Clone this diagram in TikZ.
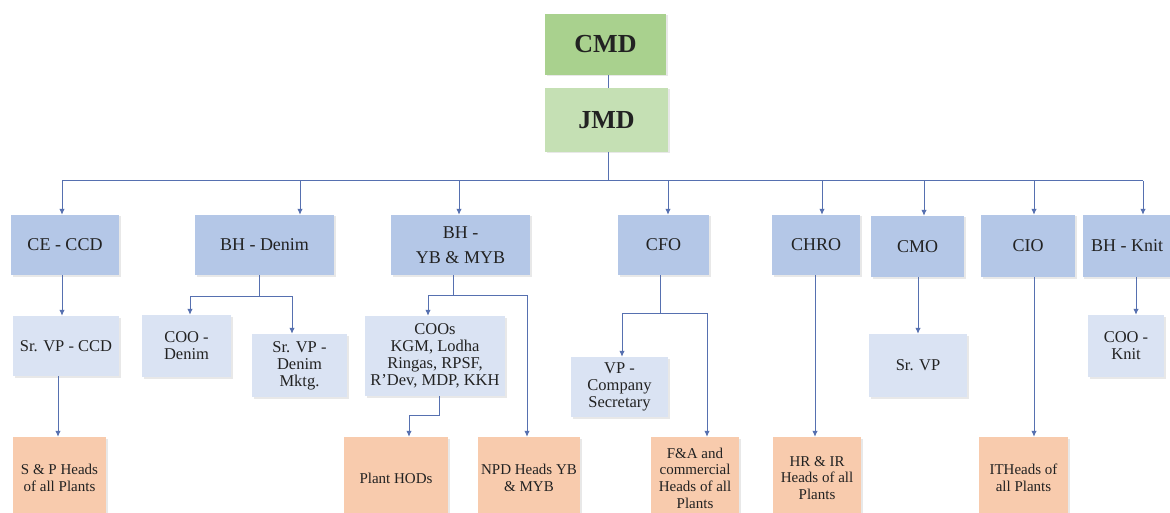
\documentclass[tikz,border=0pt]{standalone}
\usepackage{fontspec}
\setmainfont{Liberation Serif}
\usetikzlibrary{arrows.meta,shadows}
\definecolor{gA}{HTML}{A9D18E}
\definecolor{gB}{HTML}{C5E0B4}
\definecolor{bA}{HTML}{B4C7E7}
\definecolor{bB}{HTML}{DAE3F3}
\definecolor{oA}{HTML}{F8CBAD}
\definecolor{ln}{HTML}{5670B0}
\definecolor{tx}{HTML}{222222}
\tikzset{
  box/.style={inner sep=1pt, align=center, text=tx, drop shadow={shadow xshift=1.5pt, shadow yshift=-1.5pt, opacity=0.18}},
  topbox/.style={box, font=\fontsize{26}{30}\selectfont\bfseries},
  lvtwo/.style={box, fill=bA, font=\fontsize{18}{20}\selectfont},
  lvthree/.style={box, fill=bB, font=\fontsize{16.5}{17}\selectfont},
  lvfour/.style={box, fill=oA, font=\fontsize{15}{16.7}\selectfont},
  conn/.style={draw=ln, line width=1pt},
  arr/.style={conn, -{Latex[length=6pt,width=5.5pt]}},
}
\begin{document}
\begin{tikzpicture}[x=1pt,y=-1pt]
\useasboundingbox (0,0) rectangle (1170,513);
\fill[white] (0,0) rectangle (1170,513);
% top
\node[topbox, fill=gA, minimum width=121pt, minimum height=61pt] (cmd) at (605.5,44.5) {CMD};
\node[topbox, fill=gB, minimum width=123pt, minimum height=64pt] (jmd) at (606.5,120) {JMD};
% level 2
\node[lvtwo, minimum width=108pt, minimum height=60pt] (ce) at (65,245) {CE - CCD};
\node[lvtwo, minimum width=139pt, minimum height=60pt] (bhd) at (264.5,245) {BH - Denim};
\node[lvtwo, minimum width=139pt, minimum height=60pt] (bhy) at (460.5,245) {BH -\\[5pt]YB \& MYB};
\node[lvtwo, minimum width=91pt, minimum height=60pt] (cfo) at (663.5,245) {CFO};
\node[lvtwo, minimum width=88pt, minimum height=60pt] (chro) at (816,245) {CHRO};
\node[lvtwo, minimum width=93pt, minimum height=61pt] (cmo) at (917.5,246.5) {CMO};
\node[lvtwo, minimum width=94pt, minimum height=62pt] (cio) at (1028,246) {CIO};
\node[lvtwo, minimum width=89pt, minimum height=62pt] (bhk) at (1127,246) {BH - Knit};
% level 3
\node[lvthree, minimum width=106pt, minimum height=60pt] (svc) at (66,346) {Sr. VP - CCD};
\node[lvthree, minimum width=89pt, minimum height=62pt] (cood) at (186.5,346) {COO -\\Denim};
\node[lvthree, minimum width=95pt, minimum height=63pt] (svd) at (299.5,365.5) {Sr. VP -\\Denim\\Mktg.};
\node[lvthree, minimum width=140pt, minimum height=80pt] (coos) at (435,356) {COOs\\KGM, Lodha\\Ringas, RPSF,\\R'Dev, MDP, KKH};
\node[lvthree, minimum width=97pt, minimum height=60pt] (vpcs) at (619.5,387) {VP -\\Company\\Secretary};
\node[lvthree, minimum width=98pt, minimum height=63pt] (svp) at (918,365.5) {Sr. VP};
\node[lvthree, minimum width=76pt, minimum height=62pt] (cook) at (1126,346) {COO -\\Knit};
% level 4
\node[lvfour, minimum width=93pt, minimum height=82pt] (sp) at (59.5,478) {S \& P Heads\\of all Plants};
\node[lvfour, minimum width=104pt, minimum height=82pt] (hods) at (396,478) {Plant HODs};
\node[lvfour, minimum width=102pt, minimum height=82pt] (npd) at (529,478) {NPD Heads YB\\\& MYB};
\node[lvfour, minimum width=88pt, minimum height=82pt] (fa) at (695,478) {F\&A and\\commercial\\Heads of all\\Plants};
\node[lvfour, minimum width=88pt, minimum height=82pt] (hr) at (817,478) {HR \& IR\\Heads of all\\Plants};
\node[lvfour, minimum width=89pt, minimum height=82pt] (it) at (1023.5,478) {ITHeads of\\all Plants};
% connectors top
\coordinate (cj) at (608,0);
\draw[conn] (cmd.south -| cj) -- (jmd.north -| cj);
\coordinate (bus) at (608,181);
\coordinate (busL) at (62,181);
\coordinate (busR) at (1143,181);
\draw[conn] (jmd.south -| bus) -- (bus);
\draw[conn] (busL) -- (busR);
\coordinate (t1) at (62,181);
\coordinate (t2) at (300,181);
\coordinate (t3) at (459,181);
\coordinate (t4) at (668,181);
\coordinate (t5) at (822,181);
\coordinate (t6) at (924,181);
\coordinate (t7) at (1034,181);
\coordinate (t8) at (1143,181);
\draw[arr] (t1) -- (t1 |- ce.north);
\draw[arr] (t2) -- (t2 |- bhd.north);
\draw[arr] (t3) -- (t3 |- bhy.north);
\draw[arr] (t4) -- (t4 |- cfo.north);
\draw[arr] (t5) -- (t5 |- chro.north);
\draw[arr] (t6) -- (t6 |- cmo.north);
\draw[arr] (t7) -- (t7 |- cio.north);
\draw[arr] (t8) -- (t8 |- bhk.north);
% CE
\coordinate (c1) at (62,0);
\draw[arr] (ce.south -| c1) -- (svc.north -| c1);
\coordinate (c2) at (58,0);
\draw[arr] (svc.south -| c2) -- (sp.north -| c2);
% BH Denim
\coordinate (d0) at (259,296);
\coordinate (dL) at (190,296);
\coordinate (dR) at (292,296);
\draw[conn] (bhd.south -| d0) -- (d0);
\draw[conn] (dL) -- (dR);
\draw[arr] (dL) -- (dL |- cood.north);
\draw[arr] (dR) -- (dR |- svd.north);
% BH YB
\coordinate (y0) at (453,295);
\coordinate (yL) at (428,295);
\coordinate (yR) at (527,295);
\draw[conn] (bhy.south -| y0) -- (y0);
\draw[conn] (yL) -- (yR);
\draw[arr] (yL) -- (yL |- coos.north);
\draw[arr] (yR) -- (yR |- npd.north);
\coordinate (h0) at (439,415);
\coordinate (h1) at (409,415);
\draw[conn] (coos.south -| h0) -- (h0) -- (h1);
\draw[arr] (h1) -- (h1 |- hods.north);
% CFO
\coordinate (f0) at (660,313);
\coordinate (fL) at (622,313);
\coordinate (fR) at (707,313);
\draw[conn] (cfo.south -| f0) -- (f0);
\draw[conn] (fL) -- (fR);
\draw[arr] (fL) -- (fL |- vpcs.north);
\draw[arr] (fR) -- (fR |- fa.north);
% CHRO, CMO, CIO, Knit
\coordinate (r0) at (815,0);
\draw[arr] (chro.south -| r0) -- (hr.north -| r0);
\coordinate (m0) at (918,0);
\draw[arr] (cmo.south -| m0) -- (svp.north -| m0);
\coordinate (i0) at (1034,0);
\draw[arr] (cio.south -| i0) -- (it.north -| i0);
\coordinate (k0) at (1136,0);
\draw[arr] (bhk.south -| k0) -- (cook.north -| k0);
\end{tikzpicture}
\end{document}
